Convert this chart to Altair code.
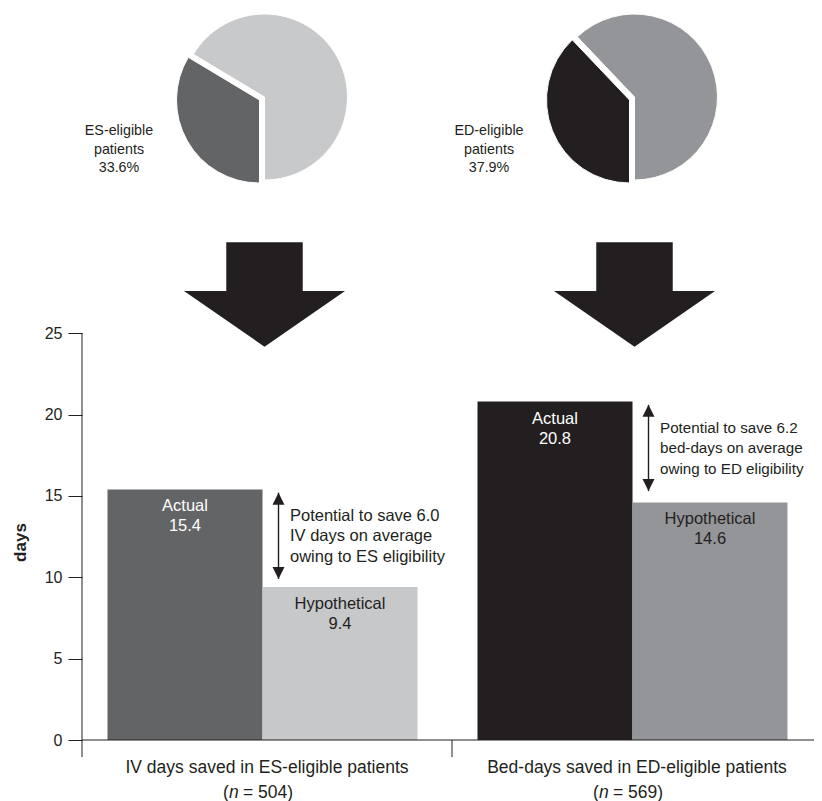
import math
import altair as alt
import pandas as pd

# ---------------- data ----------------
groups = ["IV days saved in ES-eligible patients", "Bed-days saved in ED-eligible patients"]
n_values = [504, 569]
series = ["Actual", "Hypothetical"]
actual_days = [15.4, 20.8]
hypothetical_days = [9.4, 14.6]
pie_names = ["ES-eligible", "ED-eligible"]
eligible_pct = [33.6, 37.9]
savings = [6.0, 6.2]
saving_units = ["IV days", "bed-days"]
saving_basis = ["ES", "ED"]
arrow_top = [15.2, 20.6]
arrow_bottom = [9.9, 15.3]
y_ticks = [0, 5, 10, 15, 20, 25]

# ---------------- style / layout ----------------
INK = "#231f20"
bar_colors = ["#636466", "#c7c8ca", "#231f20", "#939598"]
pie_dark = ["#636466", "#231f20"]
pie_light = ["#c8c9cb", "#939598"]
ann_font_sizes = [16.5, 15.2]   # second note shrunk so it fits inside the page
FONT = "Liberation Sans"

W, H = 732, 744          # visible plot area (page is 822 wide)
X_SPAN = 740             # band scale span (runs to the right page edge)
PX_PER_DAY = 16.27
ZERO_PX = 727
Y_MAX = ZERO_PX / PX_PER_DAY
Y_MIN = -(H - ZERO_PX) / PX_PER_DAY

# ---------------- tables ----------------
bar_rows = []
keys = []
for i, g in enumerate(groups):
    for s, vals in zip(series, [actual_days, hypothetical_days]):
        k = f"{i}-{s}"
        keys.append(k)
        bar_rows.append({
            "group": g, "series": s, "days": vals[i], "key": k,
            "label": f"{s}\n{vals[i]:.1f}",
            "tcolor": "white" if s == "Actual" else INK,
        })
bars_df = pd.DataFrame(bar_rows)

pie_rows = []
for i, g in enumerate(groups):
    a0 = math.pi
    a1 = math.pi + eligible_pct[i] / 100 * 2 * math.pi
    pie_rows.append({"group": g, "part": "dark", "t0": a0, "t1": a1, "color": pie_dark[i]})
    pie_rows.append({"group": g, "part": "light", "t0": a1, "t1": 3 * math.pi, "color": pie_light[i]})
pie_df = pd.DataFrame(pie_rows)
pie_dark_df = pie_df[pie_df.part == "dark"]
pie_light_df = pie_df[pie_df.part == "light"]

pie_label_df = pd.DataFrame({
    "group": groups,
    "text": [f"{pie_names[i]}\npatients\n{eligible_pct[i]:.1f}%" for i in range(2)],
})

ann_df = pd.DataFrame({
    "group": groups,
    "top": arrow_top,
    "bottom": arrow_bottom,
    "mid": [(a + b) / 2 for a, b in zip(arrow_top, arrow_bottom)],
    "text": [f"Potential to save {savings[i]:.1f}\n{saving_units[i]} on average\nowing to {saving_basis[i]} eligibility"
             for i in range(2)],
    "fs": ann_font_sizes,
})

n_df = pd.DataFrame({"group": groups, "rest": [f"= {n})" for n in n_values]})
grp_df = pd.DataFrame({"group": groups})
one_df = pd.DataFrame({"a": [0]})
div_df = pd.DataFrame({"group": [groups[1]]})

# ---------------- encodings ----------------
xs = alt.Scale(domain=groups, range=[0, X_SPAN], paddingInner=0, paddingOuter=0)
xa = alt.Axis(domain=False, ticks=False, labelAngle=0, labelFontSize=17.5, labelColor=INK,
              labelPadding=1, labelLimit=500, title=None, labelFont=FONT)
ys = alt.Scale(domain=[Y_MIN, Y_MAX], nice=False, zero=False)
ya = alt.Axis(values=y_ticks, domain=False, grid=False, tickSize=14, tickColor=INK, tickWidth=1,
              labelFontSize=16, labelColor=INK, labelPadding=6, labelFont=FONT,
              title="days", titleFontSize=17, titleFontWeight="bold", titleColor=INK,
              titlePadding=15, titleY=529, titleFont=FONT)

X = alt.X("group:N", scale=xs, axis=xa)


def Y(field):
    return alt.Y(field, scale=ys, axis=ya)


def YD(v):
    return alt.Y(datum=v, scale=ys, axis=ya)


ARROW = ("M -0.475 -0.648 L 0.475 -0.648 L 0.475 -0.043 L 1 -0.043 L 0 0.648 "
         "L -1 -0.043 L -0.475 -0.043 Z")
HEAD_UP = "M 0 0 L 0.5 1 L -0.5 1 Z"
HEAD_DOWN = "M 0 0 L 0.5 -1 L -0.5 -1 Z"

# pies
pie_light_layer = alt.Chart(pie_light_df).mark_arc(radius=83, xOffset=-2.5, stroke="white",
                                                     strokeWidth=1).encode(
    x=X, y=alt.value(84),
    theta=alt.Theta("t0:Q", scale=None, stack=None), theta2="t1:Q",
    color=alt.Color("color:N", scale=None),
)
pie_dark_layer = alt.Chart(pie_dark_df).mark_arc(radius=83, xOffset=-7.5, yOffset=3, stroke="white",
                                                   strokeWidth=1).encode(
    x=X, y=alt.value(84),
    theta=alt.Theta("t0:Q", scale=None, stack=None), theta2="t1:Q",
    color=alt.Color("color:N", scale=None),
)
pie_labels = alt.Chart(pie_label_df).mark_text(
    align="center", baseline="middle", dx=-148, fontSize=14.3, lineHeight=18.5, lineBreak="\n",
    color=INK, font=FONT,
).encode(x=X, y=alt.value(118), text="text:N")

big_arrows = alt.Chart(grp_df).mark_point(
    shape=ARROW, filled=True, size=25921, color=INK, opacity=1, strokeWidth=0, xOffset=-2.5,
).encode(x=X, y=alt.value(281.5))

# axis lines
y_line = alt.Chart(one_df).mark_rule(color=INK, strokeWidth=1).encode(
    x=alt.value(0), y=YD(25), y2=alt.datum(Y_MIN))
x_line = alt.Chart(one_df).mark_rule(color=INK, strokeWidth=1).encode(
    y=YD(0), x=alt.value(0), x2=alt.value(X_SPAN))
divider = alt.Chart(div_df).mark_rule(color=INK, strokeWidth=1).encode(
    x=alt.X("group:N", scale=xs, axis=xa, bandPosition=0), y=YD(0), y2=alt.datum(Y_MIN))

# bars
off = alt.XOffset("series:N", scale=alt.Scale(domain=series, paddingInner=0, paddingOuter=0.1935,
                                              align=0.425))
bar_layer = alt.Chart(bars_df).mark_bar().encode(
    x=X, xOffset=off, y=Y("days:Q"),
    color=alt.Color("key:N", scale=alt.Scale(domain=keys, range=bar_colors), legend=None),
)
bar_text = alt.Chart(bars_df).mark_text(
    baseline="top", dy=9, fontSize=16.5, lineHeight=20, lineBreak="\n", font=FONT,
).encode(x=X, xOffset=off, y=Y("days:Q"), text="label:N", color=alt.Color("tcolor:N", scale=None))

# annotations
ann_rule = alt.Chart(ann_df).mark_rule(xOffset=11.5, strokeWidth=1.4, color=INK).encode(
    x=X, y=Y("top:Q"), y2="bottom:Q")
ann_up = alt.Chart(ann_df).mark_point(shape=HEAD_UP, size=576, filled=True, xOffset=11.5, color=INK,
                                      opacity=1, strokeWidth=0).encode(x=X, y=Y("top:Q"))
ann_down = alt.Chart(ann_df).mark_point(shape=HEAD_DOWN, size=576, filled=True, xOffset=11.5,
                                        color=INK, opacity=1, strokeWidth=0).encode(x=X, y=Y("bottom:Q"))
ann_text = alt.Chart(ann_df).mark_text(
    align="left", baseline="middle", dx=23, dy=-20, lineHeight=20.5, lineBreak="\n",
    color=INK, font=FONT,
).encode(x=X, y=Y("mid:Q"), text="text:N", size=alt.Size("fs:Q", scale=None, legend=None))

# (n = ...) line
n_open = alt.Chart(n_df).mark_text(align="left", baseline="top", dx=-44, dy=27, fontSize=17.5,
                                   color=INK, font=FONT, text="(").encode(x=X, y=YD(Y_MIN))
n_ital = alt.Chart(n_df).mark_text(align="left", baseline="top", dx=-38, dy=27, fontSize=17.5,
                                   fontStyle="italic", color=INK, font=FONT, text="n").encode(
    x=X, y=YD(Y_MIN))
n_rest = alt.Chart(n_df).mark_text(align="left", baseline="top", dx=-24, dy=27, fontSize=17.5,
                                   color=INK, font=FONT).encode(x=X, y=YD(Y_MIN), text="rest:N")

chart = alt.layer(
    pie_light_layer, pie_dark_layer, pie_labels, big_arrows,
    bar_layer, bar_text, y_line, x_line, divider,
    ann_rule, ann_up, ann_down, ann_text,
    n_open, n_ital, n_rest,
).properties(
    width=W, height=H,
    autosize=alt.AutoSizeParams(type="none"),
    padding={"left": 74, "top": 5, "right": 0, "bottom": 45},
).configure(font=FONT).configure_view(stroke=None)

chart.save("out.html", embed_options={"renderer": "svg", "actions": False})
